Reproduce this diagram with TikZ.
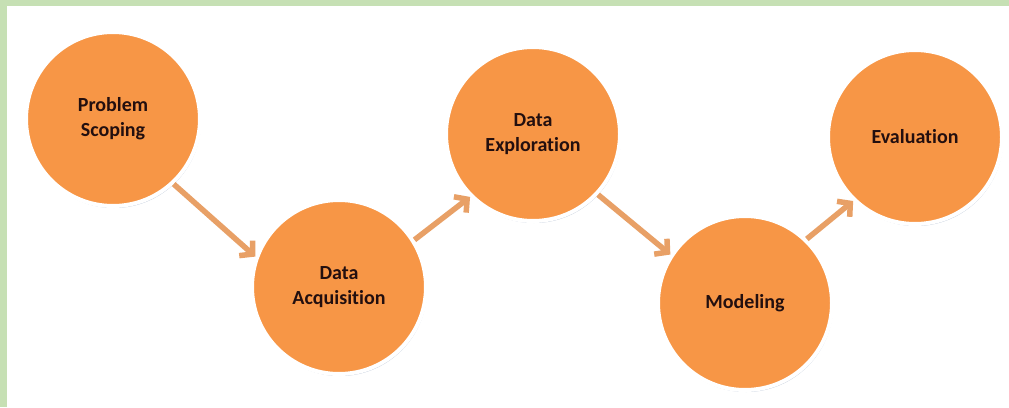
\documentclass[tikz,border=0pt]{standalone}
\usepackage{fontspec}
\setmainfont{Carlito}[Ligatures=NoCommon]
\usetikzlibrary{arrows.meta,shadows}
\definecolor{orng}{RGB}{247,150,70}
\definecolor{arrc}{RGB}{232,160,102}
\definecolor{txtc}{RGB}{35,15,15}
\definecolor{framec}{RGB}{198,224,180}
\definecolor{shad}{RGB}{185,198,215}
\begin{document}
\begin{tikzpicture}[x=1pt,y=-1pt,
  stage/.style={circle, minimum size=174pt, inner sep=0pt, fill=orng, draw=white,
    line width=4pt, outer sep=2pt, font=\bfseries\fontsize{20}{25}\selectfont,
    text=txtc, align=center,
    drop shadow={shadow xshift=1pt, shadow yshift=-2pt, fill=shad, opacity=1}},
  flow/.style={draw=arrc, line width=5.5pt, -{Straight Barb[length=9pt,width=20pt]}}]
\useasboundingbox (0,0) rectangle (1009,407);
\fill[white] (0,0) rectangle (1009,407);
\fill[framec] (0,0) rectangle (1009,6);
\fill[framec] (0,0) rectangle (7,407);
\node[stage] (ps) at (113,119) {Problem\\Scoping};
\node[stage] (da) at (339,287) {Data\\Acquisition};
\node[stage] (de) at (533,134) {Data\\Exploration};
\node[stage] (mo) at (745,303) {Modeling};
\node[stage] (ev) at (915,137) {Evaluation};
\draw[flow] (ps.-47) -- (da.160);
\draw[flow] (da.32) -- (de.225);
\draw[flow] (de.-43) -- (mo.147);
\draw[flow] (mo.46) -- (ev.226);
\end{tikzpicture}
\end{document}
